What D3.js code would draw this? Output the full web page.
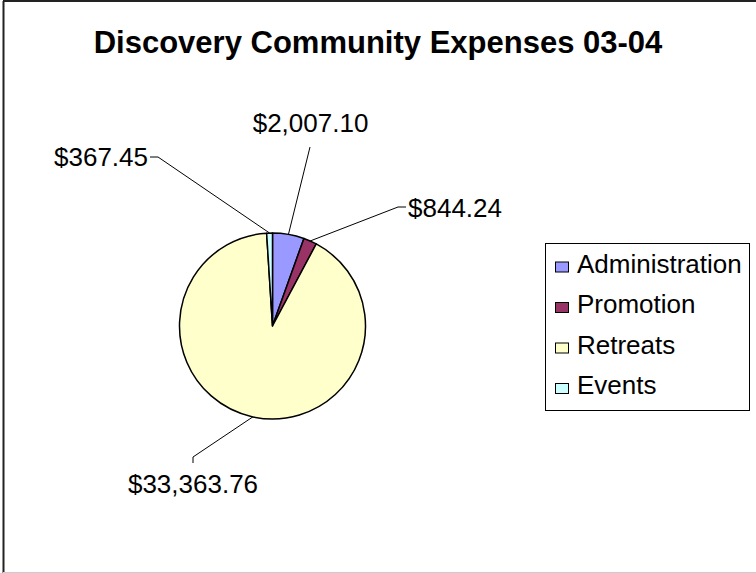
<!DOCTYPE html>
<html><head><meta charset="utf-8">
<script src="https://cdn.jsdelivr.net/npm/d3@7"></script>
<style>body{margin:0;background:#fff}svg{display:block}text{font-family:"Liberation Sans",Arial,sans-serif}</style>
</head><body>
<svg id="c" width="756" height="573"></svg>
<script>
const title = "Discovery Community Expenses 03-04";
const categories = ["Administration", "Promotion", "Retreats", "Events"];
const values = [2007.10, 844.24, 33363.76, 367.45];
const colors = ["#9999FF", "#993366", "#FFFFCC", "#CCFFFF"];

const svg = d3.select("#c");
const W = 756, H = 573;
// chart border
svg.append("line").attr("x1",3).attr("y1",1).attr("x2",W).attr("y2",1).attr("stroke","#222").attr("stroke-width",2);
svg.append("line").attr("x1",3.5).attr("y1",1).attr("x2",3.5).attr("y2",H).attr("stroke","#222").attr("stroke-width",2);
svg.append("line").attr("x1",3).attr("y1",H-0.5).attr("x2",W).attr("y2",H-0.5).attr("stroke","#ccc").attr("stroke-width",1);

svg.append("text").attr("x",378).attr("y",53).attr("text-anchor","middle")
  .attr("font-size",31).attr("font-weight","bold").text(title);

const cx = 272.5, cy = 326, r = 93;
const fmt = d3.format("$,.2f");
const pie = d3.pie().sort(null).value(d=>d)(values);
const arc = d3.arc().innerRadius(0).outerRadius(r);
const g = svg.append("g").attr("transform",`translate(${cx},${cy})`);
g.selectAll("path").data(pie).join("path")
  .attr("d",arc).attr("fill",(d,i)=>colors[i]).attr("stroke","#000").attr("stroke-width",1.5).attr("stroke-linejoin","round");

// leader lines and labels: offsets of label anchor relative to pie centre
const labelPos = [
  {tx: 310-cx, ty: 147-cy, elbow: null, lx: 310.5-cx, ly: 132-cy, anchor:"middle"},
  {tx: 398-cx, ty: 207-cy, elbow: [406-cx, 207-cy], lx: 408-cx, ly: 217-cy, anchor:"start"},
  {tx: 193-cx, ty: 457-cy, elbow: [193-cx, 463-cy], lx: 193-cx, ly: 493-cy, anchor:"middle"},
  {tx: 158-cx, ty: 157-cy, elbow: [150-cx, 157-cy], lx: 148-cx, ly: 166-cy, anchor:"end"}
];
pie.forEach((d,i)=>{
  const a = (d.startAngle+d.endAngle)/2;
  const p0 = [r*Math.sin(a), -r*Math.cos(a)];
  const L = labelPos[i];
  const pts = [p0,[L.tx,L.ty]];
  if (L.elbow) pts.push(L.elbow);
  g.append("path").attr("d",d3.line()(pts)).attr("fill","none").attr("stroke","#000").attr("stroke-width",1);
  g.append("text").attr("x",L.lx).attr("y",L.ly).attr("text-anchor",L.anchor)
    .attr("font-size",26).attr("fill","#000").text(fmt(values[i]));
});

// legend
const lg = svg.append("g");
lg.append("rect").attr("x",545.5).attr("y",243.5).attr("width",204).attr("height",167).attr("fill","#fff").attr("stroke","#000").attr("stroke-width",1);
const ly = d3.scalePoint().domain(categories).range([272.5,394]);
categories.forEach((c,i)=>{
  lg.append("rect").attr("x",555.5).attr("y",ly(c)-10.5).attr("width",13).attr("height",10).attr("fill",colors[i]).attr("stroke","#000").attr("stroke-width",1);
  lg.append("text").attr("x",577).attr("y",ly(c)).attr("font-size",26).text(c);
});
</script>
</body></html>
